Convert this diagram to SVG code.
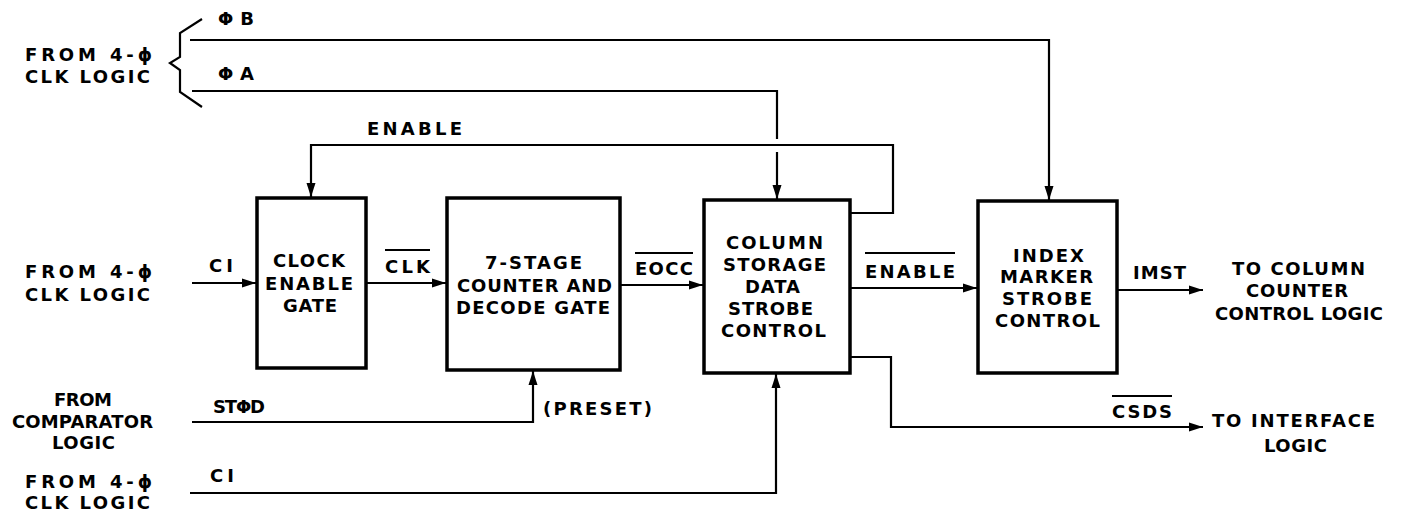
<svg xmlns="http://www.w3.org/2000/svg" width="1403" height="516" viewBox="0 0 1403 516">
<style>
text{font-family:"DejaVu Sans","Liberation Sans",Arial,sans-serif;font-weight:bold;font-size:18px;fill:#000}
.box{fill:#fff;stroke:#000;stroke-width:3.5}
.wire{fill:none;stroke:#000;stroke-width:2.2}
.bar{stroke:#000;stroke-width:2}
</style>
<defs>
<marker id="arr" markerUnits="userSpaceOnUse" markerWidth="15" markerHeight="10" refX="14" refY="5" orient="auto">
<path d="M0,0.5 L14,5 L0,9.5 Z" fill="#000"/>
</marker>
</defs>
<rect width="1403" height="516" fill="#fff"/>

<g id="connectors">
<path class="wire" d="M202,19 L180,33 L180,57 L170,63 L180,70 L180,92 L202,107"/>
<path class="wire" d="M190,40 L1049,40 L1049,200" marker-end="url(#arr)"/>
<path class="wire" d="M192,91 L777,91 L777,139"/>
<path class="wire" d="M777,152 L777,199" marker-end="url(#arr)"/>
<path class="wire" d="M850,213 L893,213 L893,145 L311,145 L311,197" marker-end="url(#arr)"/>
<path class="wire" d="M192,283 L256,283" marker-end="url(#arr)"/>
<path class="wire" d="M366,283 L446,283" marker-end="url(#arr)"/>
<path class="wire" d="M620,285 L703,285" marker-end="url(#arr)"/>
<path class="wire" d="M850,288 L977,288" marker-end="url(#arr)"/>
<path class="wire" d="M1117,290 L1203,290" marker-end="url(#arr)"/>
<path class="wire" d="M850,357 L891,357 L891,427 L1203,427" marker-end="url(#arr)"/>
<path class="wire" d="M192,422 L533,422 L533,371" marker-end="url(#arr)"/>
<path class="wire" d="M190,493 L776,493 L776,374" marker-end="url(#arr)"/>
</g>

<g id="node-clock-enable-gate">
<rect class="box" x="257" y="198" width="109" height="170"/>
<text x="273" y="267" textLength="72" lengthAdjust="spacing">CLOCK</text>
<text x="265" y="290" textLength="88" lengthAdjust="spacing">ENABLE</text>
<text x="283" y="312" textLength="54" lengthAdjust="spacing">GATE</text>
</g>

<g id="node-counter">
<rect class="box" x="447" y="198" width="173" height="172"/>
<text x="485" y="269" textLength="97" lengthAdjust="spacing">7-STAGE</text>
<text x="457" y="292" textLength="155" lengthAdjust="spacing">COUNTER AND</text>
<text x="456" y="314" textLength="154" lengthAdjust="spacing">DECODE GATE</text>
</g>

<g id="node-column-storage">
<rect class="box" x="704" y="200" width="146" height="173"/>
<text x="726" y="249" textLength="97" lengthAdjust="spacing">COLUMN</text>
<text x="723" y="271" textLength="103" lengthAdjust="spacing">STORAGE</text>
<text x="745" y="293" textLength="55" lengthAdjust="spacing">DATA</text>
<text x="728" y="315" textLength="85" lengthAdjust="spacing">STROBE</text>
<text x="721" y="337" textLength="105" lengthAdjust="spacing">CONTROL</text>
</g>

<g id="node-index-marker">
<rect class="box" x="978" y="201" width="139" height="172"/>
<text x="1013" y="262" textLength="71" lengthAdjust="spacing">INDEX</text>
<text x="1000" y="283" textLength="93" lengthAdjust="spacing">MARKER</text>
<text x="1002" y="305" textLength="90" lengthAdjust="spacing">STROBE</text>
<text x="995" y="327" textLength="105" lengthAdjust="spacing">CONTROL</text>
</g>

<g id="labels">
<text x="25" y="61" textLength="127" lengthAdjust="spacing">FROM 4-ϕ</text>
<text x="25" y="83" textLength="125" lengthAdjust="spacing">CLK LOGIC</text>
<text x="218" y="25" textLength="36" lengthAdjust="spacing">ΦB</text>
<text x="218" y="80" textLength="36" lengthAdjust="spacing">ΦA</text>
<text x="367" y="135" textLength="95" lengthAdjust="spacing">ENABLE</text>

<text x="25" y="278" textLength="127" lengthAdjust="spacing">FROM 4-ϕ</text>
<text x="25" y="301" textLength="125" lengthAdjust="spacing">CLK LOGIC</text>
<text x="209" y="272" textLength="24" lengthAdjust="spacing">CI</text>

<text x="54" y="406" textLength="58" lengthAdjust="spacing">FROM</text>
<text x="12" y="428" textLength="141" lengthAdjust="spacing">COMPARATOR</text>
<text x="52" y="449" textLength="63" lengthAdjust="spacing">LOGIC</text>
<text x="213" y="413" textLength="52" lengthAdjust="spacing">STΦD</text>
<text x="543" y="415" textLength="109" lengthAdjust="spacing">(PRESET)</text>

<text x="25" y="488" textLength="127" lengthAdjust="spacing">FROM 4-ϕ</text>
<text x="25" y="509" textLength="125" lengthAdjust="spacing">CLK LOGIC</text>
<text x="210" y="482" textLength="24" lengthAdjust="spacing">CI</text>

<text x="385" y="273" textLength="45" lengthAdjust="spacing">CLK</text>
<line class="bar" x1="385" y1="250" x2="430" y2="250"/>
<text x="635" y="275" textLength="58" lengthAdjust="spacing">EOCC</text>
<line class="bar" x1="635" y1="253" x2="693" y2="253"/>
<text x="865" y="278" textLength="90" lengthAdjust="spacing">ENABLE</text>
<line class="bar" x1="865" y1="253" x2="955" y2="253"/>
<text x="1133" y="279" textLength="53" lengthAdjust="spacing">IMST</text>
<text x="1112" y="418" textLength="60" lengthAdjust="spacing">CSDS</text>
<line class="bar" x1="1112" y1="396" x2="1172" y2="396"/>

<text x="1232" y="275" textLength="133" lengthAdjust="spacing">TO COLUMN</text>
<text x="1246" y="297" textLength="102" lengthAdjust="spacing">COUNTER</text>
<text x="1215" y="320" textLength="168" lengthAdjust="spacing">CONTROL LOGIC</text>
<text x="1212" y="427" textLength="163" lengthAdjust="spacing">TO INTERFACE</text>
<text x="1264" y="452" textLength="63" lengthAdjust="spacing">LOGIC</text>
</g>
</svg>
